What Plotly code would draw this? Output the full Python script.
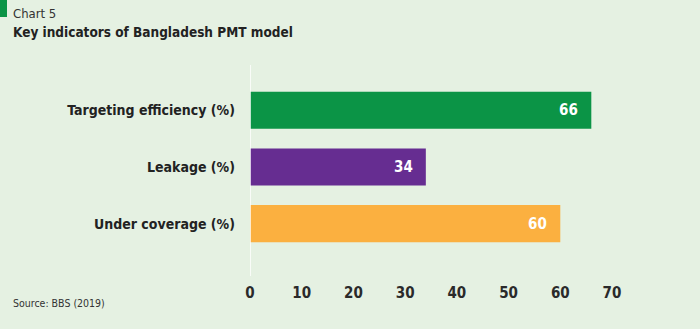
import plotly.graph_objects as go

categories = ["Targeting efficiency (%)", "Leakage (%)", "Under coverage (%)"]
values = [66, 34, 60]
colors = ["#0B9446", "#662D91", "#FBB040"]
tick_vals = [0, 10, 20, 30, 40, 50, 60, 70]

FONT = "DejaVu Sans Condensed, Open Sans, sans-serif"
BG = "#E5F1E2"

fig = go.Figure(go.Bar(
    y=categories, x=values, orientation="h",
    marker=dict(color=colors, line=dict(width=0)),
    width=0.655, hoverinfo="x+y",
))

label_ann = [
    dict(x=v, y=c, xref="x", yref="y", text="<b>%d</b>" % v, showarrow=False,
         xanchor="right", yanchor="middle", xshift=-11,
         font=dict(family=FONT, size=15, color="white"))
    for c, v in zip(categories, values)
]

fig.update_layout(
    width=700, height=329,
    margin=dict(l=250, r=88, t=65, b=53),
    paper_bgcolor=BG, plot_bgcolor=BG,
    showlegend=False,
    font=dict(family=FONT, color="#222222"),
    xaxis=dict(range=[0, 70], tickvals=tick_vals, showgrid=False, zeroline=False,
               showline=False, ticks="", ticklabelstandoff=6,
               tickfont=dict(size=15, weight="bold", color="#2a2a2a")),
    yaxis=dict(categoryorder="array", categoryarray=categories,
               range=[2.925, -0.80], showgrid=False, zeroline=False,
               showline=False, ticks="", ticklabelstandoff=14,
               tickfont=dict(size=14, weight="bold", color="#222222")),
    shapes=[
        dict(type="line", xref="x", yref="paper", x0=0, x1=0, y0=0, y1=1,
             line=dict(color="white", width=1.5)),
        dict(type="rect", xref="paper", yref="paper", x0=-250/362, x1=-243/362,
             y0=1 + 48/211, y1=1 + 65/211, fillcolor="#0B9446", line=dict(width=0)),
    ],
    annotations=label_ann + [
        dict(text="Chart 5", xref="paper", yref="paper", x=-239/362, y=1 + 65/211 - 4/211,
             xanchor="left", yanchor="top", showarrow=False,
             font=dict(size=13, color="#333333", family=FONT)),
        dict(text="<b>Key indicators of Bangladesh PMT model</b>", xref="paper", yref="paper",
             x=-239/362, y=1 + 65/211 - 22/211, xanchor="left", yanchor="top", showarrow=False,
             font=dict(size=13.5, color="#222222", family=FONT)),
        dict(text="Source: BBS (2019)", xref="paper", yref="paper",
             x=-239/362, y=-(303 - 276)/211, xanchor="left", yanchor="middle", showarrow=False,
             font=dict(size=10.5, color="#333333", family=FONT)),
    ],
)

fig.write_html("out.html")
